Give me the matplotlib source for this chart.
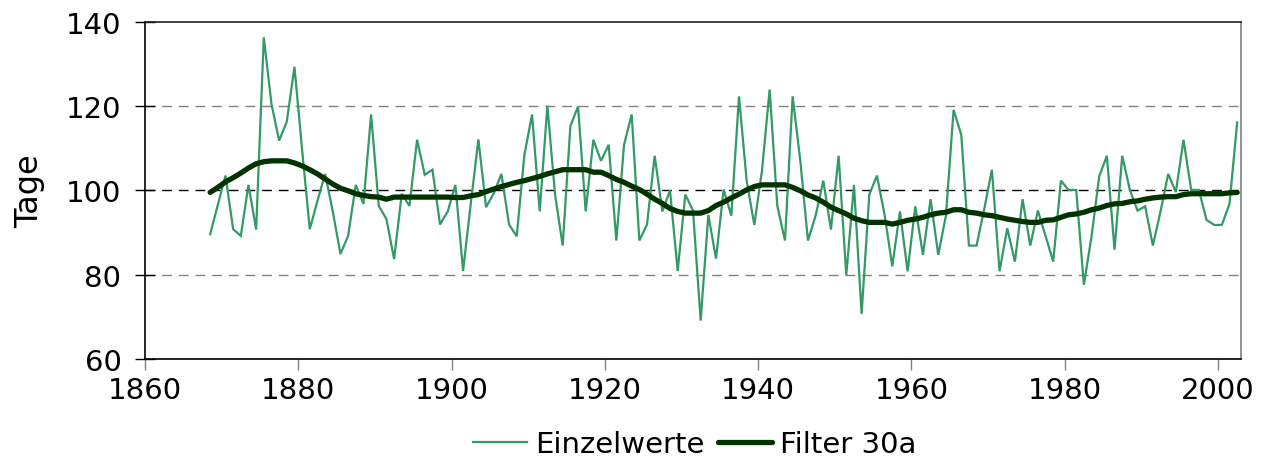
import numpy as np
import matplotlib
matplotlib.use("Agg")
import matplotlib.pyplot as plt

years = np.arange(1868, 2003)

einzelwerte = [
    89.6, 96.5, 103.5, 90.8, 89.2, 101.3, 90.7, 136.3, 120.5, 111.8,   # 1868-1877
    116.3, 129.3, 109.6, 90.8, 97.5, 103.9, 95.0, 84.9, 89.2, 101.3,  # 1878-1887
    96.8, 118.0, 96.3, 93.2, 83.7, 99.2, 96.3, 112.0, 103.7, 104.9,   # 1888-1897
    91.9, 95.0, 101.3, 80.9, 96.8, 112.1, 96.0, 99.3, 103.9, 91.9,    # 1898-1907
    89.1, 108.4, 118.0, 95.0, 120.1, 99.0, 86.9, 115.2, 119.9, 95.0,  # 1908-1917
    112.0, 107.0, 110.8, 88.1, 110.8, 118.0, 88.1, 91.9, 108.2, 95.0, # 1918-1927
    100.0, 80.9, 99.0, 95.2, 69.1, 94.2, 83.8, 100.2, 94.0, 122.3,    # 1928-1937
    102.3, 91.8, 104.7, 123.9, 96.3, 88.1, 122.3, 107.0, 88.1, 94.0,  # 1938-1947
    102.3, 90.7, 108.2, 79.9, 101.3, 70.7, 99.0, 103.5, 94.2, 82.0,   # 1948-1957
    95.0, 80.8, 96.2, 84.7, 97.9, 84.7, 94.0, 119.1, 113.2, 86.9,     # 1958-1967
    86.9, 95.6, 104.9, 80.8, 91.0, 83.1, 97.9, 86.9, 95.2, 89.2,      # 1968-1977
    83.1, 102.3, 100.1, 100.1, 77.6, 89.1, 103.3, 108.2, 85.9, 108.2, # 1978-1987
    100.1, 95.2, 96.2, 86.9, 95.0, 103.9, 99.6, 112.0, 100.1, 100.1,  # 1988-1997
    93.0, 91.8, 91.8, 96.8, 116.1,                                    # 1998-2002
]

filter_30a = [
    99.5, 100.7, 102.0, 103.0, 104.1, 105.3, 106.3, 106.8, 107.0, 107.0,  # 1868-1877
    107.0, 106.5, 105.8, 104.9, 103.9, 102.7, 101.5, 100.5, 99.9, 99.2,   # 1878-1887
    98.8, 98.5, 98.4, 97.9, 98.4, 98.4, 98.4, 98.4, 98.4, 98.4,           # 1888-1897
    98.4, 98.4, 98.3, 98.3, 98.7, 99.0, 99.7, 100.3, 100.9, 101.4,        # 1898-1907
    101.9, 102.3, 102.8, 103.3, 103.9, 104.4, 104.9, 104.9, 104.9, 104.9, # 1908-1917
    104.3, 104.3, 103.5, 102.6, 101.9, 101.0, 100.2, 99.1, 97.9, 96.9,    # 1918-1927
    95.7, 95.0, 94.6, 94.6, 94.6, 95.2, 96.4, 97.2, 98.2, 99.1,           # 1928-1937
    100.1, 100.9, 101.3, 101.3, 101.3, 101.3, 100.7, 99.9, 98.9, 98.2,    # 1938-1947
    97.2, 96.0, 95.2, 94.4, 93.4, 92.8, 92.4, 92.4, 92.4, 92.0,           # 1948-1957
    92.4, 92.9, 93.2, 93.6, 94.2, 94.6, 94.8, 95.4, 95.4, 94.8,           # 1958-1967
    94.6, 94.2, 94.0, 93.6, 93.2, 92.9, 92.6, 92.4, 92.4, 92.9,           # 1968-1977
    93.0, 93.6, 94.2, 94.4, 94.8, 95.4, 95.8, 96.4, 96.8, 96.9,           # 1978-1987
    97.3, 97.5, 97.9, 98.2, 98.4, 98.5, 98.5, 99.0, 99.2, 99.2,           # 1988-1997
    99.2, 99.2, 99.2, 99.4, 99.5,                                         # 1998-2002
]

x_tick_labels = ["1860", "1880", "1900", "1920", "1940", "1960", "1980", "2000"]
y_ticks = [60, 80, 100, 120, 140]

plt.rcParams["font.family"] = ["DejaVu Sans"]

fig = plt.figure(figsize=(12.63, 4.64), dpi=100)
ax = fig.add_axes([145 / 1263, 1 - 360 / 464, (1241 - 145) / 1263, (360 - 22.7) / 464])

l1, = ax.plot(years, einzelwerte, color="#339966", lw=1.6, solid_joinstyle="miter")
l2, = ax.plot(years, filter_30a, color="#003300", lw=3.8, solid_capstyle="round")

ax.set_xlim(1859.5, 2002.5)
ax.set_ylim(60, 140)
tick_pos = [int(t) - 0.5 for t in x_tick_labels]
ax.set_xticks(tick_pos)
ax.set_xticklabels(x_tick_labels, fontsize=21)
ax.set_yticks(y_ticks)
ax.set_yticklabels([str(v) for v in y_ticks], fontsize=21)

for v, c in [(80, "#808080"), (100, "#000000"), (120, "#808080")]:
    ax.axhline(v, color=c, lw=1.0, dashes=(7, 5), zorder=0.5)

ax.tick_params(axis="x", direction="out", length=8, width=1, color="#808080", pad=4)
ax.tick_params(axis="y", direction="inout", length=14, width=1, color="#000000", pad=10)

ax.spines["left"].set_color("#000000")
ax.spines["bottom"].set_color("#000000")
ax.spines["top"].set_color("#202020")
ax.spines["right"].set_color("#808080")
for s in ax.spines.values():
    s.set_linewidth(1.2)

ax.set_ylabel("Tage", fontsize=23)
ax.yaxis.set_label_coords(-0.091, 0.5)

fig.legend([l1, l2], ["Einzelwerte", "Filter 30a"], loc="center",
           bbox_to_anchor=(0.55, 0.04), ncol=2, frameon=False, fontsize=21,
           handlelength=1.85, handletextpad=0.27, columnspacing=0.45)

fig.savefig("out.png", dpi=100)
